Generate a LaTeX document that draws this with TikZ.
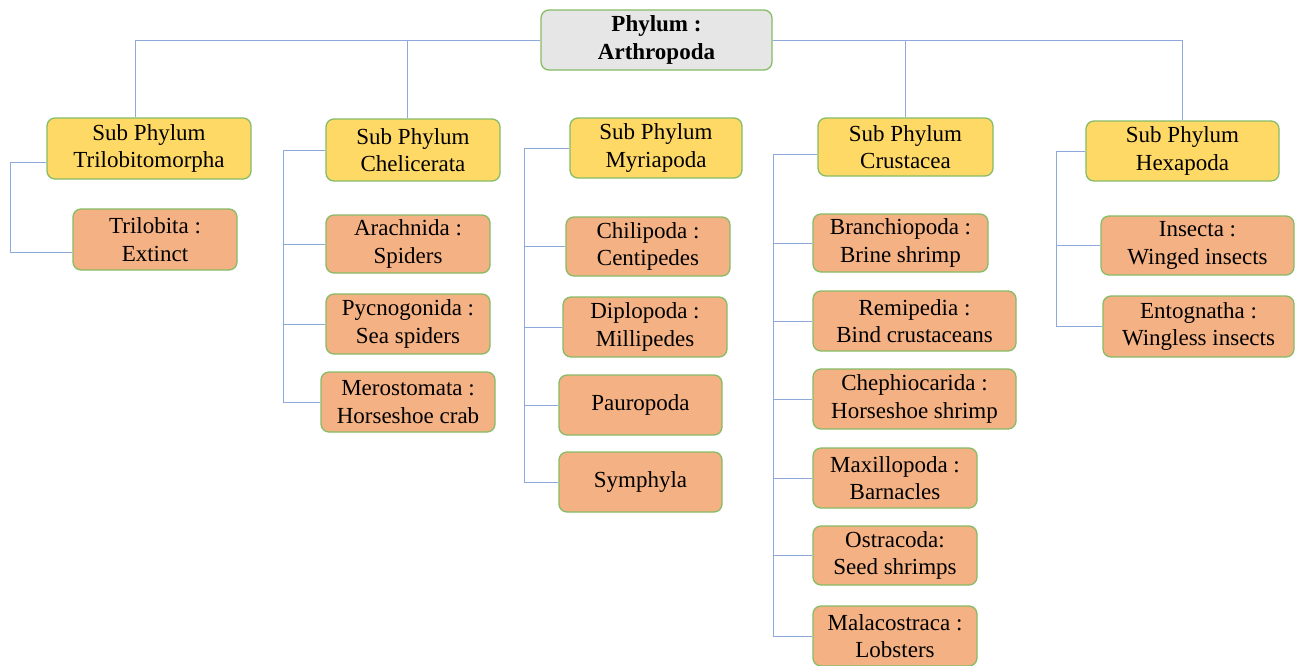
\documentclass[tikz,border=0pt]{standalone}
\usepackage{fontspec}
\setmainfont{Liberation Serif}
\definecolor{boxgreen}{HTML}{86BC66}
\definecolor{topfill}{HTML}{E7E6E6}
\definecolor{subfill}{HTML}{FFD966}
\definecolor{leaffill}{HTML}{F4B183}
\definecolor{linkblue}{HTML}{8EA9DB}
\begin{document}
\begin{tikzpicture}[x=1pt,y=-1pt,
  basebox/.style={draw=boxgreen, line width=1.3pt, rounded corners=8pt, align=center,
    inner sep=0pt, font=\fontsize{23}{27.7}\selectfont, text=black},
  topbox/.style={basebox, fill=topfill, font=\fontsize{23}{27.7}\selectfont\bfseries},
  subbox/.style={basebox, fill=subfill},
  leafbox/.style={basebox, fill=leaffill},
  link/.style={draw=linkblue, line width=1pt}]
\fill[white] (0,0) rectangle (1295,665);
\useasboundingbox (0,0) rectangle (1295,665);

% connectors from the top (drawn first, behind boxes)
\coordinate (triX) at (10,0);
\coordinate (cheX) at (283,0);
\coordinate (myrX) at (524,0);
\coordinate (cruX) at (773,0);
\coordinate (hexX) at (1056,0);

% top node
\node[topbox, minimum width=231pt, minimum height=60pt] (top) at (656.5,40) {Phylum :\\Arthropoda};

% sub phyla
\node[subbox, minimum width=204pt, minimum height=61pt] (tri) at (149,148.5) {Sub Phylum\\Trilobitomorpha};
\node[subbox, minimum width=174pt, minimum height=62pt] (che) at (413,150) {Sub Phylum\\Chelicerata};
\node[subbox, minimum width=172pt, minimum height=60pt] (myr) at (656,148) {Sub Phylum\\Myriapoda};
\node[subbox, minimum width=175pt, minimum height=58pt] (cru) at (905.5,147) {Sub Phylum\\Crustacea};
\node[subbox, minimum width=193pt, minimum height=60pt] (hex) at (1182.5,151) {Sub Phylum\\Hexapoda};

% leaves
\node[leafbox, minimum width=164pt, minimum height=61pt] (trilobita) at (155,239.5) {Trilobita :\\Extinct};

\node[leafbox, minimum width=164pt, minimum height=58pt] (arach) at (408,244) {Arachnida :\\Spiders};
\node[leafbox, minimum width=164pt, minimum height=60pt] (pycno) at (408,324) {Pycnogonida :\\Sea spiders};
\node[leafbox, minimum width=174pt, minimum height=60pt] (mero) at (408,402) {Merostomata :\\Horseshoe crab};

\node[leafbox, minimum width=164pt, minimum height=59pt] (chili) at (648,246.5) {Chilipoda :\\Centipedes};
\node[leafbox, minimum width=164pt, minimum height=60pt] (diplo) at (645,327) {Diplopoda :\\Millipedes};
\node[leafbox, minimum width=163pt, minimum height=60pt] (pauro) at (640.5,405) {Pauropoda};
\node[leafbox, minimum width=163pt, minimum height=60pt] (symph) at (640.5,482) {Symphyla};

\node[leafbox, minimum width=175pt, minimum height=58pt] (branch) at (900.5,243) {Branchiopoda :\\Brine shrimp};
\node[leafbox, minimum width=203pt, minimum height=60pt] (remi) at (914.5,321) {Remipedia :\\Bind crustaceans};
\node[leafbox, minimum width=203pt, minimum height=60pt] (cheph) at (914.5,399) {Chephiocarida :\\Horseshoe shrimp};
\node[leafbox, minimum width=164pt, minimum height=60pt] (maxi) at (895,478) {Maxillopoda :\\Barnacles};
\node[leafbox, minimum width=164pt, minimum height=59pt] (ostra) at (895,555.5) {Ostracoda:\\Seed shrimps};
\node[leafbox, minimum width=164pt, minimum height=60pt] (mala) at (895,636) {Malacostraca :\\Lobsters};

\node[leafbox, minimum width=193pt, minimum height=59pt] (insecta) at (1197.5,245.5) {Insecta :\\Winged insects};
\node[leafbox, minimum width=191pt, minimum height=61pt] (ento) at (1198.5,326.5) {Entognatha :\\Wingless insects};

% connectors (on background layer effect: drawn after, but only touching edges)
\begin{scope}[link]
\draw (top.west) -| ([xshift=-14pt]tri.north);
\draw (top.west) -| ([xshift=-6pt]che.north);
\draw (top.east) -| (cru.north);
\draw (top.east) -| (hex.north);

\draw ([yshift=-14pt]tri.west) -- ([yshift=-14pt]tri.west -| triX) |- ([yshift=-13pt]trilobita.west);

\draw (che.west) -- (che.west -| cheX) |- (arach.west);
\draw (che.west -| cheX) |- (pycno.west);
\draw (che.west -| cheX) |- (mero.west);

\draw (myr.west) -- (myr.west -| myrX) |- (chili.west);
\draw (myr.west -| myrX) |- (diplo.west);
\draw (myr.west -| myrX) |- (pauro.west);
\draw (myr.west -| myrX) |- (symph.west);

\draw ([yshift=-7pt]cru.west) -- ([yshift=-7pt]cru.west -| cruX) |- (branch.west);
\draw ([yshift=-7pt]cru.west -| cruX) |- (remi.west);
\draw ([yshift=-7pt]cru.west -| cruX) |- (cheph.west);
\draw ([yshift=-7pt]cru.west -| cruX) |- (maxi.west);
\draw ([yshift=-7pt]cru.west -| cruX) |- (ostra.west);
\draw ([yshift=-7pt]cru.west -| cruX) |- (mala.west);

\draw (hex.west) -- (hex.west -| hexX) |- (insecta.west);
\draw (hex.west -| hexX) |- (ento.west);
\end{scope}
\end{tikzpicture}
\end{document}
